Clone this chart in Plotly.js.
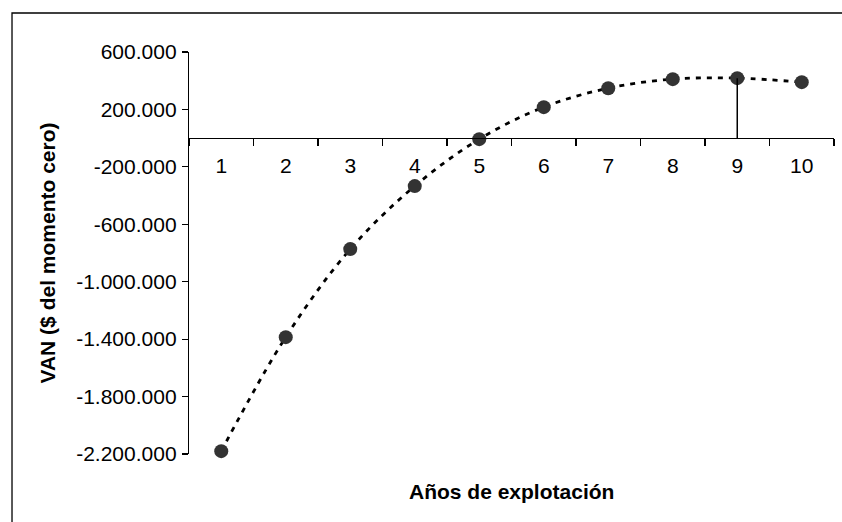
<!DOCTYPE html>
<html>
<head>
<meta charset="utf-8">
<script src="https://cdn.plot.ly/plotly-3.0.1.min.js"></script>
<style>
  html, body { margin: 0; padding: 0; background: #fff; }
  #chart { width: 842px; height: 522px; }
</style>
</head>
<body>
<div id="chart"></div>
<script>
// ---- data ----
const years = ['1', '2', '3', '4', '5', '6', '7', '8', '9', '10'];
const van = [-2180000, -1386000, -773000, -334000, -7000, 216000, 348000, 411000, 418000, 390000];
const yTickVals = [600000, 200000, -200000, -600000, -1000000, -1400000, -1800000, -2200000];
const yTickText = ['600.000', '200.000', '-200.000', '-600.000', '-1.000.000', '-1.400.000', '-1.800.000', '-2.200.000'];
const optimumYear = '9';
const xTitle = 'Años de explotación';
const yTitle = 'VAN ($ del momento cero)';

const FONT = '"Liberation Sans", Arial, sans-serif';
const yMin = -2200000, yMax = 600000;
const optimumValue = van[years.indexOf(optimumYear)];

const traces = [
  {
    x: years, y: van, type: 'scatter', mode: 'lines',
    line: { shape: 'spline', color: '#000', width: 2.8, dash: '5px,6px' },
    cliponaxis: false, hoverinfo: 'skip', showlegend: false
  },
  {
    x: years, y: van, type: 'scatter', mode: 'markers',
    marker: { color: '#333333', size: 14 },
    cliponaxis: false, showlegend: false
  },
  {
    x: [optimumYear, optimumYear], y: [0, optimumValue], type: 'scatter', mode: 'lines',
    line: { color: '#000', width: 1.5 },
    cliponaxis: false, hoverinfo: 'skip', showlegend: false
  }
];

const layout = {
  width: 842, height: 522,
  margin: { l: 189, r: 8, t: 52, b: 68 },
  paper_bgcolor: '#fff', plot_bgcolor: 'rgba(0,0,0,0)',
  font: { family: FONT, size: 21, color: '#000' },
  showlegend: false,
  xaxis: {
    type: 'category',
    anchor: 'free',
    position: (0 - yMin) / (yMax - yMin),
    range: [-0.5, 9.5],
    showgrid: false, zeroline: false,
    showline: true, linecolor: '#000', linewidth: 1.2,
    ticks: 'outside', tickson: 'boundaries', ticklen: 7, tickcolor: '#000', tickwidth: 1.2,
    tickfont: { family: FONT, size: 21, color: '#000' },
    ticklabelstandoff: 8,
    fixedrange: true
  },
  yaxis: {
    range: [yMin, yMax],
    tickmode: 'array', tickvals: yTickVals, ticktext: yTickText,
    showgrid: false, zeroline: false,
    showline: true, linecolor: '#000', linewidth: 1.2,
    ticks: 'outside', ticklen: 6, tickcolor: '#000', tickwidth: 1.2,
    tickfont: { family: FONT, size: 21, color: '#000' },
    ticklabelstandoff: 1,
    title: { text: yTitle, font: { family: FONT, size: 21, color: '#000', weight: 'bold' }, standoff: 14 },
    fixedrange: true
  },
  annotations: [
    {
      text: '<b>' + xTitle + '</b>', xref: 'paper', yref: 'paper',
      x: 0.5, y: (454 - 491) / 402, xanchor: 'center', yanchor: 'middle',
      showarrow: false, font: { family: FONT, size: 21, color: '#000' }
    }
  ],
  shapes: [
    {
      type: 'path', xref: 'paper', yref: 'paper',
      path: 'M -0.2744 -0.3 L -0.2744 1.097 L 1.2 1.097',
      line: { color: '#000', width: 1.3 }
    }
  ]
};

Plotly.newPlot('chart', traces, layout, { displayModeBar: false, staticPlot: true });
</script>
</body>
</html>
